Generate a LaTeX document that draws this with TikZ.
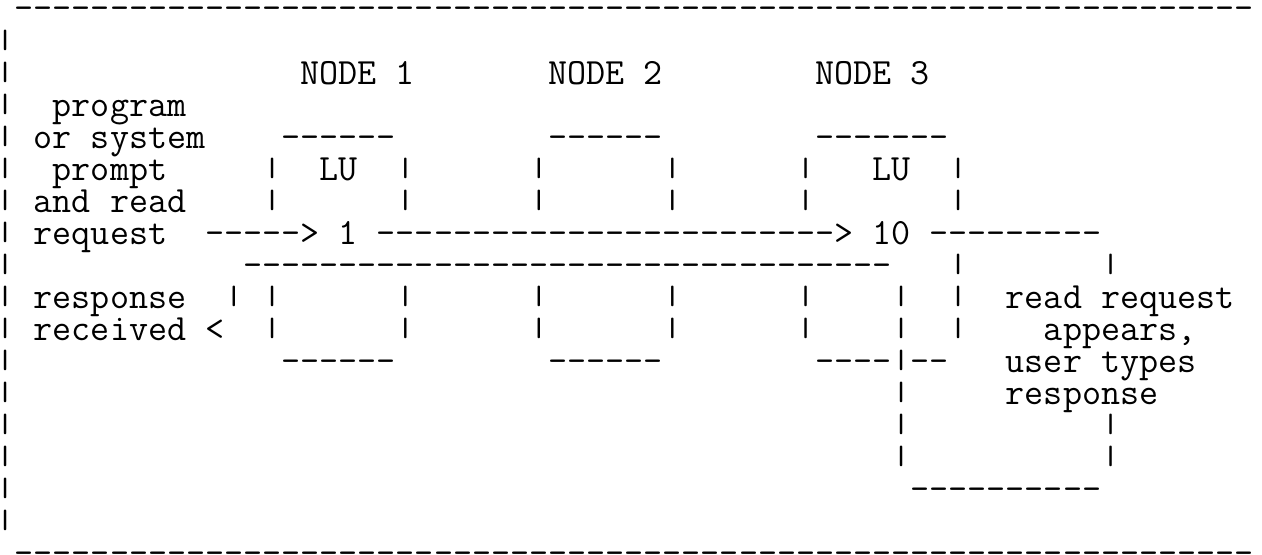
\documentclass[tikz,border=0pt]{standalone}
\usepackage{graphicx}
\usepackage{tikz}

% typewriter at a size whose character cell is 19.06pt wide
\newlength\cellw
\settowidth\cellw{\ttfamily\fontsize{36}{32}\selectfont M}
\pgfmathsetmacro\ttsize{36*19.06/\cellw}
\newcommand\asciifont{\ttfamily\fontsize{\ttsize}{32}\selectfont}
\newcommand\dashrun[1]{\foreach \k in {1,...,#1}{-}}
% a shorter bar, so that bars on adjacent lines keep a gap
\newcommand\vbar{\raisebox{3.5pt}{\scalebox{1}[0.716]{|}}}
\tikzset{txt/.style={font=\asciifont, inner sep=0pt, anchor=base west}}

\begin{document}
\begin{tikzpicture}[x=19.06pt, y=-32pt]
    \useasboundingbox (0.2377,-0.625) rectangle (66.449,16.6875);
    \path (1, 0) node [txt] (top) {\dashrun{65}};
    \path (1, 17) node [txt] (bot) {\dashrun{65}};
    \foreach \r in {1,...,16}
        \path (0, \r) node [txt] (edge\r) {\vbar};

    \path (16, 2) node [txt] (n1) {NODE 1};
    \path (29, 2) node [txt] (n2) {NODE 2};
    \path (43, 2) node [txt] (n3) {NODE 3};

    \path (3, 3) node [txt] (prog) {program};
    \path (2, 4) node [txt] (sys) {or system};
    \path (3, 5) node [txt] (pr) {prompt};
    \path (2, 6) node [txt] (rd) {and read};
    \path (2, 7) node [txt] (rq) {request};
    \path (2, 9) node [txt] (rs) {response};
    \path (2, 10) node [txt] (rc) {received};

    % the three node boxes
    \path (15, 4) node [txt] (t1) {\dashrun{6}};
    \path (29, 4) node [txt] (t2) {\dashrun{6}};
    \path (43, 4) node [txt] (t3) {\dashrun{7}};
    \foreach \c in {14,21,28,35,42,50}
        \foreach \r in {5,6,9,10}
            \path (\c, \r) node [txt] (s\c-\r) {\vbar};
    \path (17, 5) node [txt] (lu1) {LU};
    \path (46, 5) node [txt] (lu3) {LU};
    \path (15, 11) node [txt] (b1) {\dashrun{6}};
    \path (29, 11) node [txt] (b2) {\dashrun{6}};
    \path (43, 11) node [txt] (b3) {\dashrun{4}\vbar\dashrun{2}};

    % request going out, response coming back
    \path (11, 7) node [txt] (a1) {\dashrun{5}>};
    \path (18, 7) node [txt] (one) {1};
    \path (20, 7) node [txt] (a2) {\dashrun{24}>};
    \path (46, 7) node [txt] (ten) {10};
    \path (49, 7) node [txt] (out) {\dashrun{9}};
    \path (13, 8) node [txt] (back) {\dashrun{34}};
    \path (12, 9) node [txt] (rb) {\vbar};
    \path (11, 10) node [txt] (lt) {<};

    % terminal loop
    \path (50, 8) node [txt] (ul) {\vbar};
    \path (58, 8) node [txt] (ur) {\vbar};
    \foreach \r in {9,10,12,13,14}
        \path (47, \r) node [txt] (dl\r) {\vbar};
    \foreach \r in {13,14}
        \path (58, \r) node [txt] (dr\r) {\vbar};
    \path (48, 15) node [txt] (lb) {\dashrun{10}};
    \path (53, 9) node [txt] (m1) {read request};
    \path (55, 10) node [txt] (m2) {appears,};
    \path (53, 11) node [txt] (m3) {user types};
    \path (53, 12) node [txt] (m4) {response};
\end{tikzpicture}
\end{document}
